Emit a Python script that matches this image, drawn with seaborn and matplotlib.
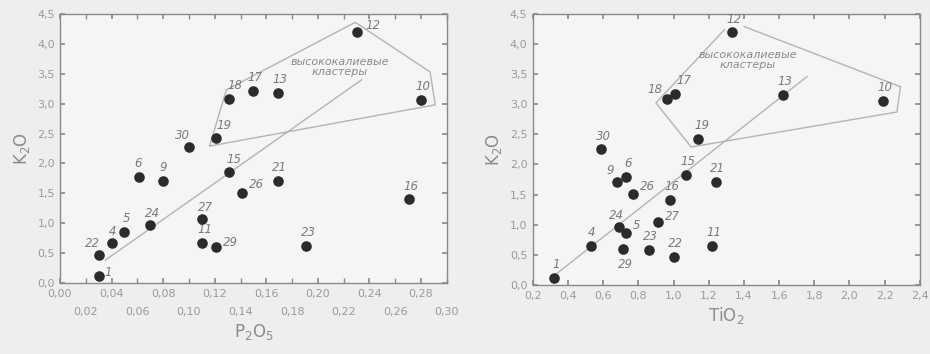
import matplotlib
matplotlib.use("Agg")
import matplotlib.pyplot as plt
import seaborn as sns
import pandas as pd
from matplotlib.ticker import FixedLocator, FuncFormatter

# ---------------- data ----------------
# left panel: P2O5 vs K2O
p_ids = ["1", "22", "4", "5", "24", "6", "9", "30", "19", "18", "17", "13", "12", "10",
         "15", "26", "21", "16", "23", "27", "11", "29"]
p_x = [0.030, 0.030, 0.040, 0.050, 0.070, 0.061, 0.080, 0.100, 0.121, 0.131, 0.150, 0.169,
       0.230, 0.280, 0.131, 0.141, 0.169, 0.271, 0.191, 0.110, 0.110, 0.121]
p_y = [0.12, 0.47, 0.67, 0.85, 0.97, 1.77, 1.71, 2.27, 2.42, 3.08, 3.21, 3.18,
       4.20, 3.06, 1.86, 1.50, 1.71, 1.40, 0.62, 1.07, 0.67, 0.60]
# label offsets (points)
p_off = [(4, 0), (-10, 6), (-2, 6), (-1, 7), (-4, 6), (-3, 7), (-3, 7), (-10, 6), (0, 7),
         (-1, 7), (-4, 7), (-4, 7), (6, 2), (-4, 7), (-2, 6), (5, 4), (-4, 7), (-4, 7),
         (-4, 7), (-3, 6), (-3, 7), (5, 1)]
p_poly_x = [0.116, 0.129, 0.229, 0.287, 0.291, 0.116]
p_poly_y = [2.29, 3.23, 4.36, 3.53, 2.98, 2.29]
p_trend_x = [0.035, 0.234]
p_trend_y = [0.38, 3.40]

# right panel: TiO2 vs K2O
t_ids = ["1", "4", "24", "5", "29", "23", "22", "27", "16", "26", "9", "6", "15", "30",
         "18", "17", "19", "12", "13", "10", "21", "11"]
t_x = [0.32, 0.53, 0.69, 0.73, 0.71, 0.86, 1.00, 0.91, 0.98, 0.77, 0.68, 0.73, 1.07, 0.59,
       0.96, 1.01, 1.14, 1.33, 1.62, 2.19, 1.24, 1.22]
t_y = [0.12, 0.65, 0.96, 0.86, 0.60, 0.58, 0.47, 1.05, 1.41, 1.51, 1.71, 1.80, 1.83, 2.25,
       3.09, 3.17, 2.42, 4.19, 3.16, 3.06, 1.71, 0.65]
t_off = [(-1, 7), (-2, 7), (-7, 6), (5, 3), (-3, -14), (-4, 7), (-4, 7), (5, 1), (-4, 7),
         (5, 3), (-8, 6), (-1, 7), (-4, 7), (-4, 7), (-14, 4), (1, 7), (-3, 7), (-4, 7),
         (-4, 7), (-4, 7), (-4, 7), (-4, 7)]
t_poly_x = [1.29, 0.90, 1.10, 2.27, 2.29, 1.40]
t_poly_y = [4.24, 3.02, 2.29, 2.87, 3.29, 4.29]
t_trend_x = [0.31, 1.76]
t_trend_y = [0.13, 3.46]

cluster_text = "высококалиевые\nкластеры"

# ---------------- style ----------------
sns.set_theme(style="ticks")
plt.rcParams["font.family"] = ["DejaVu Sans"]

BG = "#eeeeee"
AXBG = "#f5f5f5"
SPINE = "#8a8a8a"
TICKC = "#9a9a9a"
LBL = "#8c8c8c"
LINEC = "#b3b3b3"
PT = "#2b2b2b"

fig = plt.figure(figsize=(9.3, 3.54), dpi=100, facecolor=BG)
axL = fig.add_axes([0.0645, 0.2006, 0.416, 0.760])
axR = fig.add_axes([0.573, 0.195, 0.416, 0.766])

comma = FuncFormatter(lambda v, p: f"{v:.1f}".replace(".", ","))


def style(ax):
    ax.set_facecolor(AXBG)
    for s in ax.spines.values():
        s.set_color(SPINE)
        s.set_linewidth(1.0)
    ax.tick_params(which="both", direction="in", top=True, right=True,
                   color=SPINE, labelcolor=TICKC, labelsize=8)
    ax.set_ylim(0, 4.5)
    ax.set_yticks([0.0, 0.5, 1.0, 1.5, 2.0, 2.5, 3.0, 3.5, 4.0, 4.5])
    ax.yaxis.set_major_formatter(comma)
    ax.set_ylabel("K$_2$O", color=LBL, fontsize=12, labelpad=4)


def draw(ax, ids, xs, ys, offs, polx, poly, trx, tryy, tx, ty):
    df = pd.DataFrame({"x": xs, "y": ys, "id": ids})
    sns.lineplot(x=trx, y=tryy, ax=ax, color=LINEC, lw=1.0, sort=False, estimator=None)
    sns.lineplot(x=polx, y=poly, ax=ax, color=LINEC, lw=1.0, sort=False, estimator=None)
    sns.scatterplot(data=df, x="x", y="y", ax=ax, color=PT, s=58,
                    edgecolor=PT, linewidth=0, zorder=5)
    for i, x, y, o in zip(ids, xs, ys, offs):
        ax.annotate(i, (x, y), xytext=o, textcoords="offset points",
                    fontsize=8.5, style="italic", color="#7a7a7a")
    ax.text(tx, ty, cluster_text, ha="center", va="center", fontsize=8,
            style="italic", color="#8a8a8a", linespacing=1.0)


# left
style(axL)
draw(axL, p_ids, p_x, p_y, p_off, p_poly_x, p_poly_y, p_trend_x, p_trend_y, 0.217, 3.62)
axL.set_xlim(0, 0.30)
major = [0.00, 0.04, 0.08, 0.12, 0.16, 0.20, 0.24, 0.28]
minor = [0.02, 0.06, 0.10, 0.14, 0.18, 0.22, 0.26, 0.30]
axL.xaxis.set_major_locator(FixedLocator(major))
axL.xaxis.set_minor_locator(FixedLocator(minor))
fmt2 = FuncFormatter(lambda v, p: f"{v:.2f}".replace(".", ","))
axL.xaxis.set_major_formatter(fmt2)
axL.xaxis.set_minor_formatter(fmt2)
axL.tick_params(axis="x", which="major", pad=4, length=3.5)
axL.tick_params(axis="x", which="minor", pad=17, length=3.5, labelsize=8,
                labelcolor=TICKC)
axL.tick_params(axis="y", length=3.5)
axL.set_xlabel("P$_2$O$_5$", color=LBL, fontsize=12, labelpad=4)

# right
style(axR)
draw(axR, t_ids, t_x, t_y, t_off, t_poly_x, t_poly_y, t_trend_x, t_trend_y, 1.42, 3.74)
axR.set_xlim(0.2, 2.4)
axR.set_xticks([0.2, 0.4, 0.6, 0.8, 1.0, 1.2, 1.4, 1.6, 1.8, 2.0, 2.2, 2.4])
axR.xaxis.set_major_formatter(comma)
axR.tick_params(which="major", length=3.5, pad=4)
axR.set_xlabel("TiO$_2$", color=LBL, fontsize=12, labelpad=3)

fig.savefig("out.png", dpi=100, facecolor=BG)
